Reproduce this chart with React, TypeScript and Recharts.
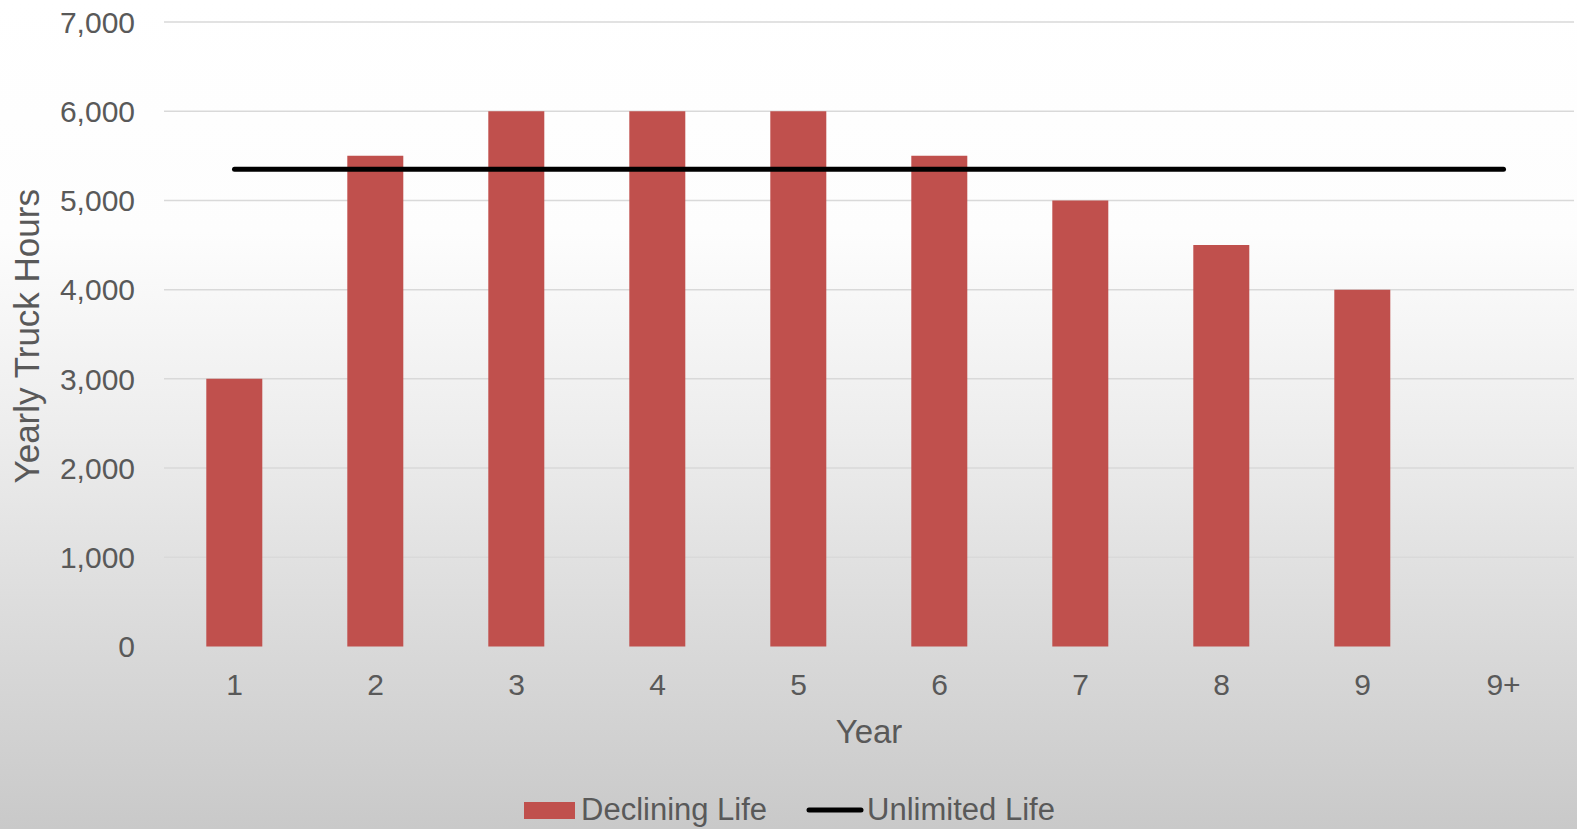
import React from "react";
import {
  ComposedChart,
  Bar,
  Line,
  XAxis,
  YAxis,
  CartesianGrid,
  Legend,
} from "recharts";

const years = ["1", "2", "3", "4", "5", "6", "7", "8", "9", "9+"];
const decliningLife = [3000, 5500, 6000, 6000, 6000, 5500, 5000, 4500, 4000, null];
const unlimitedLife = [5350, 5350, 5350, 5350, 5350, 5350, 5350, 5350, 5350, 5350];
const yTicks = [0, 1000, 2000, 3000, 4000, 5000, 6000, 7000];

const data = years.map((year, i) => ({
  year,
  declining: decliningLife[i],
  unlimited: unlimitedLife[i],
}));

const FONT = "'Liberation Sans', Arial, sans-serif";
const TEXT = "#595959";

const LegendContent = () => (
  <div
    style={{
      display: "flex",
      alignItems: "center",
      height: 38,
      paddingLeft: 524,
      fontFamily: FONT,
      fontSize: 31,
      color: TEXT,
    }}
  >
    <span style={{ width: 51, height: 17, background: "#C0504D", marginRight: 6 }} />
    <span>Declining Life</span>
    <svg width={58} height={10} style={{ marginLeft: 39, marginRight: 3 }}>
      <line x1={3} y1={5} x2={55} y2={5} stroke="#000" strokeWidth={5} strokeLinecap="round" />
    </svg>
    <span>Unlimited Life</span>
  </div>
);

const YTitle = (props: any) => {
  const vb = props.viewBox || { y: 22, height: 624 };
  const cy = vb.y + vb.height / 2 + 2;
  return (
    <text
      transform={`translate(39, ${cy}) rotate(-90)`}
      textAnchor="middle"
      fontSize={35}
      fill={TEXT}
      fontFamily={FONT}
    >
      Yearly Truck Hours
    </text>
  );
};

export default function App() {
  return (
    <div
      style={{
        width: 1577,
        height: 829,
        background:
          "linear-gradient(to bottom, #ffffff 0%, #fdfdfd 28%, #ededed 52%, #dcdcdc 74%, #c9c9c9 100%)",
      }}
    >
      <style>{`body{margin:0}`}</style>
      <ComposedChart
        width={1577}
        height={829}
        data={data}
        barCategoryGap="30%"
        margin={{ top: 22, right: 3, left: 0, bottom: 0 }}
        style={{ fontFamily: FONT }}
      >
        <CartesianGrid vertical={false} stroke="#D9D9D9" strokeWidth={1.5} />
        <XAxis
          dataKey="year"
          height={144.5}
          axisLine={false}
          tickLine={false}
          tickSize={6}
          tickMargin={21}
          tick={{ fill: TEXT, fontSize: 30 }}
          label={{
            value: "Year",
            position: "insideBottom",
            offset: 48,
            fill: TEXT,
            fontSize: 33,
          }}
        />
        <YAxis
          width={164}
          domain={[0, 7000]}
          ticks={yTicks}
          axisLine={false}
          tickLine={false}
          tickSize={6}
          tickMargin={23}
          tick={{ fill: TEXT, fontSize: 30 }}
          tickFormatter={(v: number) => v.toLocaleString("en-US")}
          label={<YTitle />}
        />
        <Legend
          verticalAlign="bottom"
          align="left"
          wrapperStyle={{ height: 38, width: 1577, left: 0 }}
          content={<LegendContent />}
        />
        <Bar dataKey="declining" name="Declining Life" fill="#C0504D" isAnimationActive={false} />
        <Line
          dataKey="unlimited"
          name="Unlimited Life"
          stroke="#000000"
          strokeWidth={5}
          strokeLinecap="round"
          dot={false}
          activeDot={false}
          isAnimationActive={false}
        />
      </ComposedChart>
    </div>
  );
}
